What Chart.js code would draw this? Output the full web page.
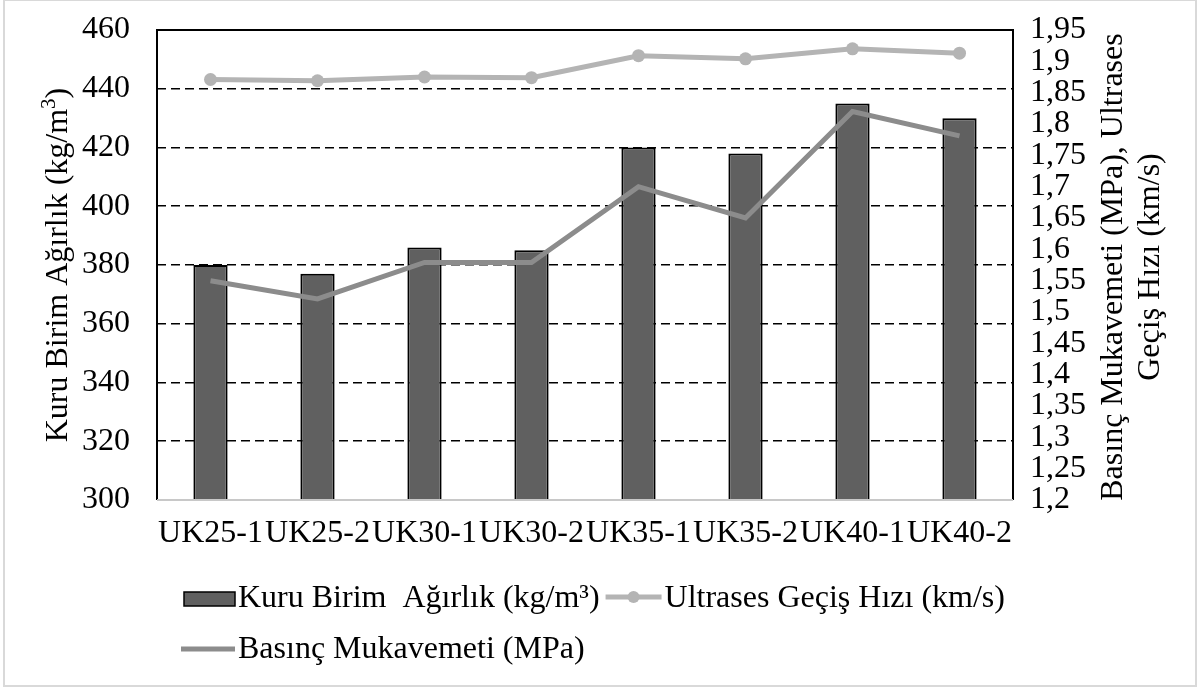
<!DOCTYPE html>
<html>
<head>
<meta charset="utf-8">
<script src="https://cdn.jsdelivr.net/npm/chart.js@4.4.1/dist/chart.umd.min.js"></script>
<style>
  html, body { margin: 0; padding: 0; background: #fff; }
  canvas { display: block; }
</style>
</head>
<body>
<canvas id="chart" width="1198" height="691"></canvas>
<script>
// Sample groups and measured values
const categories = ['UK25-1', 'UK25-2', 'UK30-1', 'UK30-2', 'UK35-1', 'UK35-2', 'UK40-1', 'UK40-2'];
const dryUnitWeight = [380, 377, 386, 385, 420, 418, 435, 430];            // kg/m³
const ultrasonicVelocity = [1.871, 1.869, 1.875, 1.874, 1.909, 1.904, 1.920, 1.913]; // km/s
const compressiveStrength = [1.550, 1.521, 1.579, 1.579, 1.700, 1.650, 1.820, 1.781]; // MPa

const leftTicks = [300, 320, 340, 360, 380, 400, 420, 440, 460];
const rightTicks = [1.2, 1.25, 1.3, 1.35, 1.4, 1.45, 1.5, 1.55, 1.6, 1.65, 1.7, 1.75, 1.8, 1.85, 1.9, 1.95];

const seriesLabels = ['Kuru Birim  Ağırlık (kg/m³)', 'Ultrases Geçiş Hızı (km/s)', 'Basınç Mukavemeti (MPa)'];
const leftTitle = ['Kuru Birim Ağırlık (kg/m', '3', ')'];
const rightTitle = ['Basınç Mukavemeti (MPa), Ultrases', 'Geçiş Hızı (km/s)'];

const FONT = '"Liberation Serif", "Times New Roman", serif';
const COLORS = { bar: '#606060', ultra: '#b4b4b4', strength: '#8c8c8c', frameGray: '#d9d9d9' };

// keep the plot area exactly where the layout padding puts it
function noEdgePadding(s) {
  s.paddingTop = 0;
  s.paddingBottom = 0;
  s.paddingLeft = 0;
  s.paddingRight = 0;
}

// Outer box, plot frame, axis titles and legend
const decorations = {
  id: 'decorations',
  beforeDraw(chart) {
    const ctx = chart.ctx;
    ctx.save();
    ctx.fillStyle = '#fff';
    ctx.fillRect(0, 0, chart.width, chart.height);
    ctx.restore();
  },
  afterDatasetsDraw(chart) {
    const ctx = chart.ctx;
    const a = chart.chartArea;
    ctx.save();
    // plot frame: black on three sides, grey baseline
    ctx.lineWidth = 2;
    ctx.strokeStyle = '#000';
    ctx.beginPath();
    ctx.moveTo(a.left, a.bottom);
    ctx.lineTo(a.left, a.top);
    ctx.lineTo(a.right, a.top);
    ctx.lineTo(a.right, a.bottom);
    ctx.stroke();
    ctx.strokeStyle = '#c8c8c8';
    ctx.beginPath();
    ctx.moveTo(a.left, a.bottom);
    ctx.lineTo(a.right, a.bottom);
    ctx.stroke();
    ctx.restore();
  },
  afterDraw(chart) {
    const ctx = chart.ctx;
    const a = chart.chartArea;
    const midY = (a.top + a.bottom) / 2;
    ctx.save();

    // outer border
    ctx.strokeStyle = COLORS.frameGray;
    ctx.lineWidth = 2;
    ctx.strokeRect(4, 0, 1192, 686);

    ctx.fillStyle = '#000';
    ctx.textBaseline = 'alphabetic';

    // left axis title (with superscript)
    ctx.save();
    ctx.translate(67, midY);
    ctx.rotate(-Math.PI / 2);
    ctx.font = '32px ' + FONT;
    const w0 = ctx.measureText(leftTitle[0]).width;
    const w2 = ctx.measureText(leftTitle[2]).width;
    ctx.font = '21px ' + FONT;
    const w1 = ctx.measureText(leftTitle[1]).width;
    let x = -(w0 + w1 + w2) / 2;
    ctx.textAlign = 'left';
    ctx.font = '32px ' + FONT;
    ctx.fillText(leftTitle[0], x, 0);
    x += w0;
    ctx.font = '21px ' + FONT;
    ctx.fillText(leftTitle[1], x, -12);
    x += w1;
    ctx.font = '32px ' + FONT;
    ctx.fillText(leftTitle[2], x, 0);
    ctx.restore();

    // right axis title, two lines
    ctx.save();
    ctx.translate(1122, midY + 2);
    ctx.rotate(-Math.PI / 2);
    ctx.font = '32px ' + FONT;
    ctx.textAlign = 'center';
    ctx.fillText(rightTitle[0], 0, 0);
    ctx.fillText(rightTitle[1], 0, 37);
    ctx.restore();

    // legend
    ctx.font = '32px ' + FONT;
    ctx.textAlign = 'left';
    ctx.textBaseline = 'middle';
    const row1 = 599, row2 = 650;

    ctx.fillStyle = COLORS.bar;
    ctx.fillRect(184, 592, 51, 14);
    ctx.strokeStyle = '#000';
    ctx.lineWidth = 1.5;
    ctx.strokeRect(184, 592, 51, 14);
    ctx.fillStyle = '#000';
    ctx.fillText(seriesLabels[0], 238, row1);

    let lx = 238 + ctx.measureText(seriesLabels[0]).width + 6;
    ctx.strokeStyle = COLORS.ultra;
    ctx.lineWidth = 5;
    ctx.beginPath();
    ctx.moveTo(lx, 597);
    ctx.lineTo(lx + 56, 597);
    ctx.stroke();
    ctx.fillStyle = COLORS.ultra;
    ctx.beginPath();
    ctx.arc(lx + 28, 597, 6, 0, Math.PI * 2);
    ctx.fill();
    ctx.fillStyle = '#000';
    ctx.fillText(seriesLabels[1], lx + 59, row1);

    ctx.strokeStyle = COLORS.strength;
    ctx.lineWidth = 5;
    ctx.beginPath();
    ctx.moveTo(181, 649);
    ctx.lineTo(235, 649);
    ctx.stroke();
    ctx.fillStyle = '#000';
    ctx.fillText(seriesLabels[2], 238, row2);

    ctx.restore();
  }
};

new Chart(document.getElementById('chart'), {
  data: {
    labels: categories,
    datasets: [
      {
        type: 'bar',
        label: seriesLabels[0],
        data: dryUnitWeight,
        yAxisID: 'y',
        backgroundColor: COLORS.bar,
        borderColor: '#000',
        borderWidth: 2,
        barPercentage: 0.32,
        categoryPercentage: 1,
        order: 3
      },
      {
        type: 'line',
        label: seriesLabels[1],
        data: ultrasonicVelocity,
        yAxisID: 'y1',
        borderColor: COLORS.ultra,
        backgroundColor: COLORS.ultra,
        borderWidth: 5,
        pointRadius: 6.5,
        pointBorderWidth: 0,
        pointBackgroundColor: COLORS.ultra,
        tension: 0,
        order: 1
      },
      {
        type: 'line',
        label: seriesLabels[2],
        data: compressiveStrength,
        yAxisID: 'y1',
        borderColor: COLORS.strength,
        backgroundColor: COLORS.strength,
        borderWidth: 5,
        pointRadius: 0,
        tension: 0,
        order: 2
      }
    ]
  },
  options: {
    responsive: false,
    animation: false,
    devicePixelRatio: 1,
    layout: { padding: { top: 30, left: 0, right: 0, bottom: 0 } },
    plugins: { legend: { display: false }, tooltip: { enabled: false } },
    scales: {
      x: {
        grid: { display: false },
        border: { display: false },
        ticks: { color: '#000', font: { family: FONT, size: 32 }, padding: 6, maxRotation: 0, autoSkip: false },
        afterFit(s) { s.height = 191; noEdgePadding(s); }
      },
      y: {
        position: 'left',
        min: 300,
        max: 460,
        afterBuildTicks(s) { s.ticks = leftTicks.map(v => ({ value: v })); },
        grid: {
          drawTicks: false,
          lineWidth: 1.6,
          color: c => (c.tick && (c.tick.value === 300 || c.tick.value === 460)) ? 'rgba(0,0,0,0)' : '#000'
        },
        border: { display: false, dash: [9, 5] },
        ticks: { color: '#000', font: { family: FONT, size: 32 }, padding: 27, autoSkip: false },
        afterFit(s) { s.width = 157; noEdgePadding(s); }
      },
      y1: {
        position: 'right',
        min: 1.2,
        max: 1.95,
        afterBuildTicks(s) { s.ticks = rightTicks.map(v => ({ value: v })); },
        grid: { display: false, drawTicks: false },
        border: { display: false },
        ticks: {
          color: '#000',
          font: { family: FONT, size: 32 },
          padding: 17,
          autoSkip: false,
          callback: v => String(Math.round(v * 100) / 100).replace('.', ',')
        },
        afterFit(s) { s.width = 185; noEdgePadding(s); }
      }
    }
  },
  plugins: [decorations]
});
</script>
</body>
</html>
